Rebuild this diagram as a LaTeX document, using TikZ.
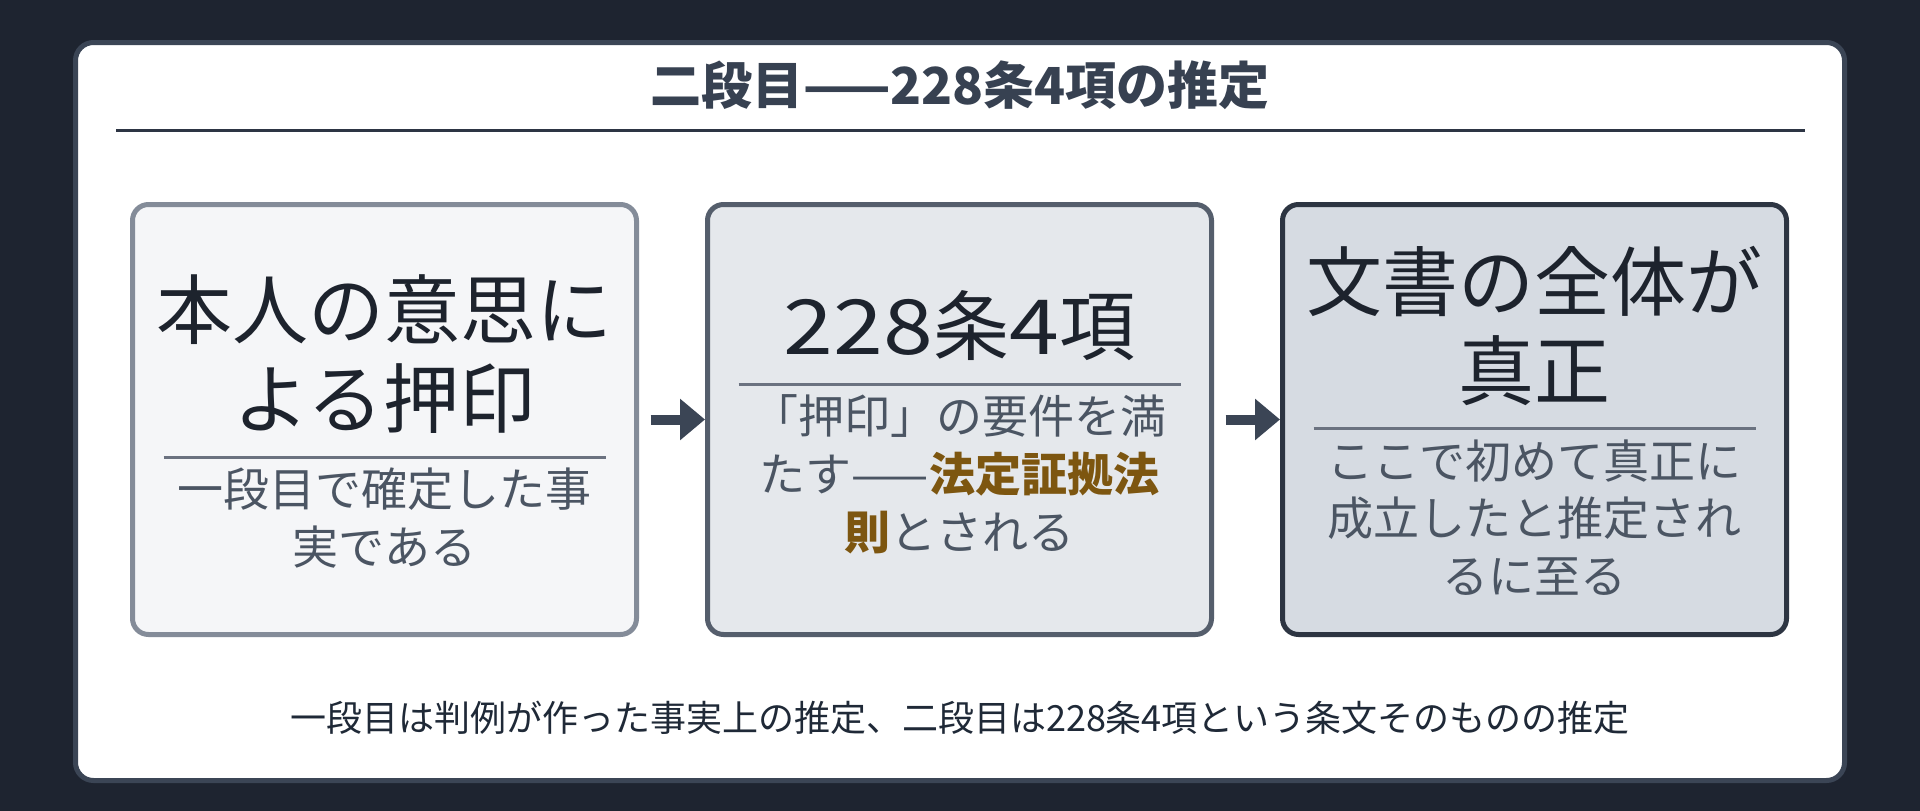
\documentclass[tikz,border=0pt]{standalone}
\usepackage{fontspec}
\setmainfont{Noto Sans CJK JP}
\usetikzlibrary{arrows.meta}
\definecolor{bg}{RGB}{30,36,48}
\definecolor{cardborder}{RGB}{59,69,85}
\definecolor{titlecol}{RGB}{55,65,81}
\definecolor{rulecol}{RGB}{45,53,68}
\definecolor{bonefill}{RGB}{245,246,248}
\definecolor{boneborder}{RGB}{132,140,153}
\definecolor{btwofill}{RGB}{229,232,236}
\definecolor{btwoborder}{RGB}{85,94,108}
\definecolor{bthreefill}{RGB}{214,219,226}
\definecolor{bthreeborder}{RGB}{45,53,66}
\definecolor{maintext}{RGB}{29,35,45}
\definecolor{subtext}{RGB}{75,85,99}
\definecolor{divcol}{RGB}{107,114,128}
\definecolor{foottext}{RGB}{31,41,55}
\definecolor{arrowcol}{RGB}{59,69,85}
\definecolor{accent}{RGB}{125,86,16}
\newcommand{\widedigits}[1]{{\addfontfeatures{FakeStretch=1.18}#1}}
\begin{document}
\begin{tikzpicture}[x=1pt,y=-1pt,
  card/.style={rectangle, draw=cardborder, line width=5, fill=white, rounded corners=18,
    minimum width=1769, minimum height=738, inner sep=0, outer sep=0},
  stepbox/.style={rectangle, rounded corners=16, line width=5, minimum width=504,
    minimum height=430, inner sep=0, outer sep=0},
  mainline/.style={anchor=base, inner sep=0, text=maintext, font=\fontsize{76}{89}\selectfont},
  subline/.style={anchor=base, inner sep=0, text=subtext, font=\fontsize{46}{58}\selectfont},
  divider/.style={draw=divcol, line width=3},
  flow/.style={draw=arrowcol, line width=10, -{Triangle[length=25pt,width=40pt]}},
]
\fill[bg] (0,0) rectangle (1920,811);
\useasboundingbox (0,0) rectangle (1920,811);

\node (card) [card] at (960,411.5) {};

\node (title) [anchor=base, inner sep=0, text=titlecol, font=\bfseries\fontsize{51}{60}\selectfont]
  at (960,104) {二段目——228条4項の推定};
\coordinate (rl) at (116,130);
\coordinate (rr) at (1805,130);
\draw[draw=rulecol, line width=3] (rl) -- (rr);

\node (box1) [stepbox, draw=boneborder, fill=bonefill] at (384.5,419.5) {};
\node (box2) [stepbox, draw=btwoborder, fill=btwofill] at (959.5,419.5) {};
\node (box3) [stepbox, draw=bthreeborder, fill=bthreefill] at (1534.5,419.5) {};

\draw[flow] ([xshift=14]box1.east) -- ([xshift=-2.5]box2.west);
\draw[flow] ([xshift=14]box2.east) -- ([xshift=-2.5]box3.west);

% box 1
\node (m1a) [mainline] at (384.5,338) {本人の意思に};
\node (m1b) [mainline] at (384.5,427) {よる押印};
\coordinate (d1l) at (163.5,457);
\coordinate (d1r) at (605.5,457);
\draw[divider] (d1l) -- (d1r);
\node (s1a) [subline] at (384.5,506.5) {一段目で確定した事};
\node (s1b) [subline] at (384.5,564.5) {実である};

% box 2
\node (m2a) [mainline] at (959.5,354) {\widedigits{228}条\widedigits{4}項};
\coordinate (d2l) at (738.5,384);
\coordinate (d2r) at (1180.5,384);
\draw[divider] (d2l) -- (d2r);
\node (s2a) [subline] at (959.5,433.5) {「押印」の要件を満};
\node (s2b) [subline] at (959.5,491.5) {たす——{\bfseries\color{accent}法定証拠法}};
\node (s2c) [subline] at (959.5,549.5) {{\bfseries\color{accent}則}とされる};

% box 3
\node (m3a) [mainline] at (1534.5,310) {文書の全体が};
\node (m3b) [mainline] at (1534.5,399) {真正};
\coordinate (d3l) at (1313.5,428);
\coordinate (d3r) at (1755.5,428);
\draw[divider] (d3l) -- (d3r);
\node (s3a) [subline] at (1534.5,478.5) {ここで初めて真正に};
\node (s3b) [subline] at (1534.5,535.5) {成立したと推定され};
\node (s3c) [subline] at (1534.5,593.5) {るに至る};

\node (foot) [anchor=base, inner sep=0, text=foottext, font=\fontsize{36}{44}\selectfont]
  at (960,731) {一段目は判例が作った事実上の推定、二段目は228条4項という条文そのものの推定};
\end{tikzpicture}
\end{document}
